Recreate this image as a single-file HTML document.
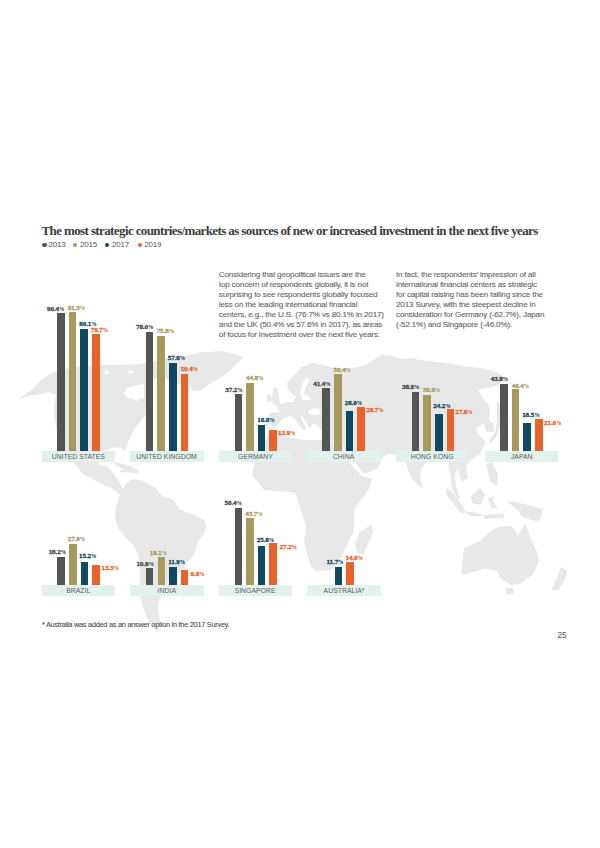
<!DOCTYPE html>
<html><head><meta charset="utf-8">
<style>
html,body{margin:0;padding:0;background:#fff;}
body{width:600px;height:848px;position:relative;overflow:hidden;font-family:"Liberation Sans",sans-serif;}
.map{position:absolute;left:0;top:0;width:600px;height:848px;}
.b{position:absolute;width:7.6px;}
.lb{position:absolute;font-family:"Liberation Serif",serif;font-weight:bold;font-size:7.1px;line-height:1;letter-spacing:-0.1px;white-space:nowrap;margin-top:-1.3px;transform:translateX(-50%);-webkit-text-stroke:0.3px;}
.lb span{font-size:5.4px;letter-spacing:0;-webkit-text-stroke:0.1px;}
.bx{position:absolute;width:73.5px;height:10.9px;background:#e3f1ed;color:#5c5d5f;font-size:8.1px;line-height:11.4px;text-align:center;white-space:nowrap;letter-spacing:0px;}
.bx span{display:inline-block;transform:scaleX(0.85);}
.title{position:absolute;left:41.5px;top:223.9px;font-family:"Liberation Serif",serif;font-weight:bold;font-size:13px;line-height:1;color:#3b3c3e;white-space:nowrap;letter-spacing:-0.61px;transform-origin:0 0;}
.leg{position:absolute;top:240.5px;font-size:8px;line-height:1;color:#505050;white-space:nowrap;letter-spacing:-0.25px;}
.dot{position:absolute;width:4.4px;height:4.4px;border-radius:50%;top:242.5px;}
.p{position:absolute;font-size:8.1px;line-height:10px;color:#636466;white-space:nowrap;letter-spacing:-0.17px;-webkit-text-stroke:0.1px;}
.fn{position:absolute;left:42px;top:620.6px;letter-spacing:-0.28px;font-size:7.4px;line-height:1;color:#4d4e50;-webkit-text-stroke:0.1px;white-space:nowrap;}
.pg{position:absolute;left:557.6px;top:632.4px;font-size:8.2px;line-height:1;color:#505050;letter-spacing:-0.2px;}
</style></head><body>
<svg class="map" width="600" height="848" viewBox="0 0 600 848"><path d="M18,399 26,394 34,388 40,381 50,374 57,371 70,368 85,366 103,365 120,365 140,364 160,360 175,357 188,356 190,368 194,383 190,386 180,384 168,380 158,378 150,380 146,386 147,396 150,406 146,414 140,422 134,430 130,438 127,445 125,451 121,447 112,448 100,452 96,458 100,465 106,466 112,472 118,480 124,490 122,496 113,489 98,482 83,474 73,462 66,452 60,440 56,428 54,415 54,405 56,395 48,392 42,394 30,396Z" fill="#e8e8e8"/><path d="M185,356 199,352.6 223,351 243.5,357 237,363.4 230.5,370 220.8,377.5 210,384 200,390.5 193.7,391.6 189.3,386 188,377.5 185,372Z" fill="#e8e8e8"/><path d="M112,462 124,464 134,468 140,472 132,473 120,468Z" fill="#e8e8e8"/><path d="M120,470 138,471 138,473 120,472Z" fill="#e8e8e8"/><path d="M120,494 126,484 132,479 140,480 156,488 162,496 174,500 180,510 192,514 204,520 207,526 204,534 198,542 194,554 188,562 182,570 175,575 165,585 160,596 158,608 160,620 158,632 148,620 143,608 140,596 140,580 140,564 138,554 134,546 126,538 118,528 115,518 116,506Z" fill="#e8e8e8"/><path d="M275,427 268,424 269,413 280,412 275,405 283,403 288,402 293,402 296,397 292,394 288,389 287,383 292,377 302,367 312,363 324,365 334,368 352,368 364,366 370,362 382,355 392,356 400,359 412,358 420,360 444,363 462,366 480,368 493,371 502,375 505,380 500,383 496,386 488,388 478,390 482,397 488,404 490,412 489,420 494,424 494,432 486,432 484,424 478,426 476,430 480,436 486,442 484,446 480,454 470,460 466,468 468,478 462,482 460,476 458,468 455,474 456,486 460,498 458,500 452,488 450,474 448,462 440,460 430,461 425,463 421,469 420,479 423,488 418,485 412,479 408,469 405,461 398,456 390,454 384,456 378,468 372,471 364,474 354,461 344,448 334,441 322,440 322,432 318,425 312,424 310,429 306,422 300,414 302,420 306,428 304,431 300,426 294,418 290,416 284,418 280,422Z" fill="#e8e8e8"/><path d="M252,475 255,462 260,450 264,442 270,432 277,430 290,438 305,440 322,440 332,441 340,452 350,463 358,472 362,476 372,479 370,487 364,497 358,503 354,511 354,521 354,531 350,539 346,547 342,557 336,565 330,570 316,571 312,568 308,558 304,543 306,527 302,513 298,501 296,493 290,492 278,491 264,490 256,480Z" fill="#e8e8e8"/><path d="M273,388 277,388 279,396 280,404 273,405 272,398Z" fill="#e8e8e8"/><path d="M267,395 271,395 272,401 267,402Z" fill="#e8e8e8"/><path d="M372,524 373,532 368,544 363,555 357,553 355,543 360,532Z" fill="#e8e8e8"/><path d="M446,488 452,492 460,502 466,512 462,514 452,502 446,494Z" fill="#e8e8e8"/><path d="M464,511 478,513 484,516 470,516Z" fill="#e8e8e8"/><path d="M484,515 504,514 504,518 484,519Z" fill="#e8e8e8"/><path d="M471,496 480,488 485,494 481,505 472,503Z" fill="#e8e8e8"/><path d="M488,498 494,496 493,502 498,508 491,508Z" fill="#e8e8e8"/><path d="M486,464 492,462 498,474 497,486 490,482 488,472Z" fill="#e8e8e8"/><path d="M497,402 501,404 500,426 497,436 491,443 489,441 495,432 497,420Z" fill="#e8e8e8"/><path d="M492,458 495,458 494,463 491,462Z" fill="#e8e8e8"/><path d="M506,501 520,503 543,509 539,522 522,517 518,510Z" fill="#e8e8e8"/><path d="M464,548 480,541 492,530 500,526 511,526 514,529 518,536 521,530 525,523 528,531 532,541 537,552 539,562 532,575 520,584 511,585 501,579 497,571 485,569 473,572 461,575Z" fill="#e8e8e8"/><path d="M505,588 513,588 514,593 507,595Z" fill="#e8e8e8"/><path d="M561,567 567,571 565,580 558,590 551,590 556,580Z" fill="#e8e8e8"/><path d="M124,393 127,388 133,386 144,384 144,398 138,399 137,402 134,399 128,398Z" fill="#fff"/><path d="M336,412 340,410 342,418 341,427 337,426 335,418Z" fill="#fff"/><path d="M308,410 315,408 321,410 319,415 310,415Z" fill="#fff"/><path d="M303,381 307,378 309,381 305,388 304,394 310,397 311,400 302,400 300,393Z" fill="#fff"/><ellipse cx="106.7" cy="372.5" rx="2" ry="1.7" fill="#fff"/><ellipse cx="130.8" cy="371.7" rx="2.5" ry="1.5" fill="#fff"/></svg>
<div class="title" id="title">The most strategic countries/markets as sources of new or increased investment in the next five years</div>
<div class="dot" style="left:42.3px;background:#545557"></div><div class="leg" style="left:48.6px">2013</div>
<div class="dot" style="left:73.1px;background:#a8995e"></div><div class="leg" style="left:80.1px">2015</div>
<div class="dot" style="left:105.1px;background:#0f4861"></div><div class="leg" style="left:112.1px">2017</div>
<div class="dot" style="left:137.6px;background:#e9622a"></div><div class="leg" style="left:144.4px">2019</div>
<div class="p" style="left:218.8px;top:269.6px">Considering that geopolitical issues are the<br>top concern of respondents globally, it is not<br>surprising to see respondents globally focused<br>less on the leading international financial<br>centers, e.g., the U.S. (76.7% vs 80.1% in 2017)<br>and the UK (50.4% vs 57.6% in 2017), as areas<br>of focus for investment over the next five years.</div>
<div class="p" style="left:396px;top:269.6px">In fact, the respondents’ impression of all<br>international financial centers as strategic<br>for capital raising has been falling since the<br>2013 Survey, with the steepest decline in<br>consideration for Germany (-62.7%), Japan<br>(-52.1%) and Singapore (-46.0%).</div>
<div class="b" style="left:57.10px;top:313.39px;height:137.41px;background:#545557"></div><div class="b" style="left:68.75px;top:312.02px;height:138.78px;background:#a8995e"></div><div class="b" style="left:80.40px;top:329.05px;height:121.75px;background:#0f4861"></div><div class="b" style="left:92.05px;top:334.22px;height:116.58px;background:#e9622a"></div><div class="lb" style="left:55.70px;top:307.30px;color:#434446">90.4<span>%</span></div><div class="lb" style="left:76.35px;top:306.00px;color:#a8995e">91.3<span>%</span></div><div class="lb" style="left:88.00px;top:322.00px;color:#0f4861">80.1<span>%</span></div><div class="lb" style="left:99.50px;top:328.00px;color:#e9622a">76.7<span>%</span></div><div class="bx" style="left:41.50px;top:451.00px"><span>UNITED STATES</span></div><div class="b" style="left:145.80px;top:332.24px;height:118.56px;background:#545557"></div><div class="b" style="left:157.45px;top:335.58px;height:115.22px;background:#a8995e"></div><div class="b" style="left:169.10px;top:363.25px;height:87.55px;background:#0f4861"></div><div class="b" style="left:180.75px;top:374.19px;height:76.61px;background:#e9622a"></div><div class="lb" style="left:144.65px;top:325.00px;color:#434446">78.0<span>%</span></div><div class="lb" style="left:165.35px;top:329.00px;color:#a8995e">75.8<span>%</span></div><div class="lb" style="left:176.50px;top:356.30px;color:#0f4861">57.6<span>%</span></div><div class="lb" style="left:189.30px;top:367.70px;color:#e9622a">50.4<span>%</span></div><div class="bx" style="left:130.10px;top:451.00px"><span>UNITED KINGDOM</span></div><div class="b" style="left:234.50px;top:394.26px;height:56.54px;background:#545557"></div><div class="b" style="left:246.15px;top:382.70px;height:68.10px;background:#a8995e"></div><div class="b" style="left:257.80px;top:425.26px;height:25.54px;background:#0f4861"></div><div class="b" style="left:269.45px;top:429.67px;height:21.13px;background:#e9622a"></div><div class="lb" style="left:234.00px;top:388.00px;color:#434446">37.2<span>%</span></div><div class="lb" style="left:254.65px;top:376.30px;color:#a8995e">44.8<span>%</span></div><div class="lb" style="left:266.00px;top:418.70px;color:#0f4861">16.8<span>%</span></div><div class="lb" style="left:286.65px;top:431.30px;color:#e9622a">13.9<span>%</span></div><div class="bx" style="left:218.70px;top:451.00px"><span>GERMANY</span></div><div class="b" style="left:322.30px;top:387.87px;height:62.93px;background:#545557"></div><div class="b" style="left:333.95px;top:374.19px;height:76.61px;background:#a8995e"></div><div class="b" style="left:345.60px;top:411.28px;height:39.52px;background:#0f4861"></div><div class="b" style="left:357.25px;top:407.18px;height:43.62px;background:#e9622a"></div><div class="lb" style="left:321.95px;top:382.20px;color:#434446">41.4<span>%</span></div><div class="lb" style="left:342.30px;top:368.30px;color:#a8995e">50.4<span>%</span></div><div class="lb" style="left:353.50px;top:400.80px;color:#0f4861">26.0<span>%</span></div><div class="lb" style="left:375.00px;top:408.70px;color:#e9622a">28.7<span>%</span></div><div class="bx" style="left:307.30px;top:451.00px"><span>CHINA</span></div><div class="b" style="left:411.70px;top:391.67px;height:59.13px;background:#545557"></div><div class="b" style="left:423.35px;top:395.17px;height:55.63px;background:#a8995e"></div><div class="b" style="left:435.00px;top:414.02px;height:36.78px;background:#0f4861"></div><div class="b" style="left:446.65px;top:408.85px;height:41.95px;background:#e9622a"></div><div class="lb" style="left:410.65px;top:385.00px;color:#434446">38.9<span>%</span></div><div class="lb" style="left:431.55px;top:388.70px;color:#a8995e">36.6<span>%</span></div><div class="lb" style="left:442.00px;top:404.00px;color:#0f4861">24.2<span>%</span></div><div class="lb" style="left:464.00px;top:410.00px;color:#e9622a">27.6<span>%</span></div><div class="bx" style="left:395.90px;top:451.00px"><span>HONG KONG</span></div><div class="b" style="left:500.00px;top:384.22px;height:66.58px;background:#545557"></div><div class="b" style="left:511.65px;top:389.39px;height:61.41px;background:#a8995e"></div><div class="b" style="left:523.30px;top:422.68px;height:28.12px;background:#0f4861"></div><div class="b" style="left:534.95px;top:418.88px;height:31.92px;background:#e9622a"></div><div class="lb" style="left:499.40px;top:377.50px;color:#434446">43.8<span>%</span></div><div class="lb" style="left:520.45px;top:383.80px;color:#a8995e">40.4<span>%</span></div><div class="lb" style="left:530.85px;top:413.00px;color:#0f4861">18.5<span>%</span></div><div class="lb" style="left:552.75px;top:420.80px;color:#e9622a">21.0<span>%</span></div><div class="bx" style="left:484.50px;top:451.00px"><span>JAPAN</span></div><div class="b" style="left:57.30px;top:557.09px;height:27.66px;background:#545557"></div><div class="b" style="left:68.95px;top:543.71px;height:41.04px;background:#a8995e"></div><div class="b" style="left:80.60px;top:561.65px;height:23.10px;background:#0f4861"></div><div class="b" style="left:92.25px;top:564.53px;height:20.22px;background:#e9622a"></div><div class="lb" style="left:57.35px;top:550.00px;color:#434446">18.2<span>%</span></div><div class="lb" style="left:76.40px;top:537.20px;color:#a8995e">27.0<span>%</span></div><div class="lb" style="left:87.75px;top:554.70px;color:#0f4861">15.2<span>%</span></div><div class="lb" style="left:110.15px;top:566.30px;color:#e9622a">13.3<span>%</span></div><div class="bx" style="left:41.50px;top:585.00px"><span>BRAZIL</span></div><div class="b" style="left:145.90px;top:568.18px;height:16.57px;background:#545557"></div><div class="b" style="left:157.55px;top:557.24px;height:27.51px;background:#a8995e"></div><div class="b" style="left:169.20px;top:566.66px;height:18.09px;background:#0f4861"></div><div class="b" style="left:180.85px;top:570.16px;height:14.59px;background:#e9622a"></div><div class="lb" style="left:145.10px;top:562.50px;color:#434446">10.9<span>%</span></div><div class="lb" style="left:158.50px;top:550.80px;color:#a8995e">18.1<span>%</span></div><div class="lb" style="left:176.70px;top:560.50px;color:#0f4861">11.9<span>%</span></div><div class="lb" style="left:197.50px;top:572.50px;color:#e9622a">9.6<span>%</span></div><div class="bx" style="left:130.10px;top:585.00px"><span>INDIA</span></div><div class="b" style="left:234.50px;top:508.14px;height:76.61px;background:#545557"></div><div class="b" style="left:246.15px;top:518.33px;height:66.42px;background:#a8995e"></div><div class="b" style="left:257.80px;top:545.53px;height:39.22px;background:#0f4861"></div><div class="b" style="left:269.45px;top:543.41px;height:41.34px;background:#e9622a"></div><div class="lb" style="left:233.20px;top:501.30px;color:#434446">50.4<span>%</span></div><div class="lb" style="left:254.00px;top:512.50px;color:#a8995e">43.7<span>%</span></div><div class="lb" style="left:265.50px;top:538.30px;color:#0f4861">25.8<span>%</span></div><div class="lb" style="left:288.30px;top:545.00px;color:#e9622a">27.2<span>%</span></div><div class="bx" style="left:218.70px;top:585.00px"><span>SINGAPORE</span></div><div class="b" style="left:334.70px;top:566.97px;height:17.78px;background:#0f4861"></div><div class="b" style="left:346.35px;top:562.10px;height:22.65px;background:#e9622a"></div><div class="lb" style="left:335.00px;top:560.00px;color:#0f4861">11.7<span>%</span></div><div class="lb" style="left:354.20px;top:555.80px;color:#e9622a">14.9<span>%</span></div><div class="bx" style="left:307.30px;top:585.00px"><span>AUSTRALIA*</span></div>
<div class="fn">* Australia was added as an answer option in the 2017 Survey.</div>
<div class="pg">25</div>
</body></html>
